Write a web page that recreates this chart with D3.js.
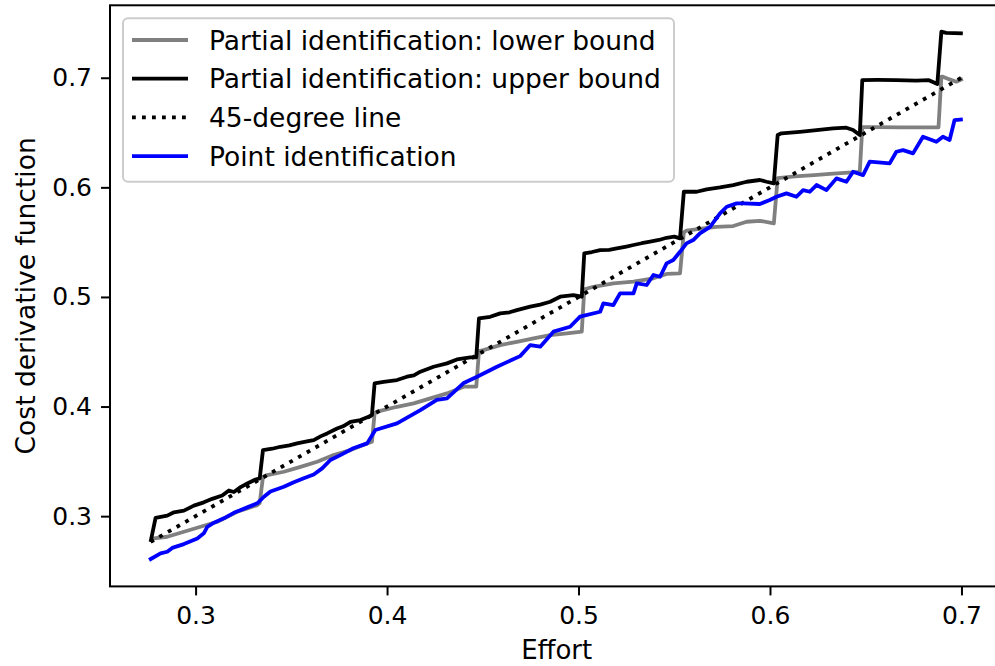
<!DOCTYPE html>
<html lang="en">
<head>
    <meta charset="UTF-8">
    <title>Cost derivative function</title>
    <style>
        body { margin: 0; background: #fff; }
        svg { display: block; font-family: "DejaVu Sans", sans-serif; }
    </style>
</head>
<body>
    <script src="https://cdn.jsdelivr.net/npm/d3@7"></script>
    <script>
        const w = 995;
        const h = 666;

        // points [effort, valeur]
        const lowerBound = [
            [0.2765,0.2766],[0.2782,0.2797],[0.2852,0.2812],[0.2939,0.2858],[0.3026,0.2903],[0.3113,0.2949],
            [0.3165,0.2994],[0.3217,0.3040],[0.3270,0.3071],[0.3322,0.3101],[0.3335,0.3120],
            [0.3352,0.3360],[0.3374,0.3375],[0.3461,0.3405],[0.3548,0.3450],[0.3635,0.3496],[0.3721,0.3557],
            [0.3809,0.3603],[0.3896,0.3664],[0.3921,0.3679],
            [0.3935,0.3938],[0.3948,0.3953],[0.4052,0.3998],[0.4139,0.4029],[0.4226,0.4075],[0.4313,0.4120],
            [0.4400,0.4181],[0.4466,0.4181],
            [0.4480,0.4505],[0.4504,0.4515],[0.4591,0.4561],[0.4678,0.4591],[0.4765,0.4622],[0.4852,0.4652],
            [0.4939,0.4668],[0.5017,0.4683],
            [0.5030,0.5070],[0.5078,0.5093],[0.5182,0.5124],[0.5287,0.5139],[0.5391,0.5170],[0.5460,0.5210],
            [0.5530,0.5215],
            [0.5550,0.5590],[0.5564,0.5605],[0.5652,0.5625],[0.5720,0.5640],[0.5808,0.5647],[0.5878,0.5686],
            [0.5947,0.5695],[0.6020,0.5671],
            [0.6040,0.6085],[0.6130,0.6100],[0.6230,0.6112],[0.6330,0.6125],[0.6430,0.6137],[0.6469,0.6140],
            [0.6482,0.6550],[0.6560,0.6550],[0.6680,0.6548],[0.6800,0.6548],[0.6880,0.6548],
            [0.6895,0.7010],[0.6903,0.7010],[0.6938,0.6985],[0.6973,0.6964],[0.7007,0.6990]
        ];

        const upperBound = [
            [0.2765,0.2766],[0.2791,0.2985],[0.2852,0.3005],[0.2887,0.3035],[0.2939,0.3050],[0.2991,0.3096],
            [0.3043,0.3126],[0.3087,0.3158],[0.3139,0.3188],[0.3174,0.3234],[0.3200,0.3220],[0.3235,0.3265],
            [0.3270,0.3298],[0.3313,0.3334],[0.3335,0.3345],
            [0.3352,0.3603],[0.3400,0.3615],[0.3443,0.3633],[0.3490,0.3645],[0.3530,0.3664],[0.3575,0.3680],
            [0.3617,0.3694],[0.3655,0.3730],[0.3687,0.3755],[0.3739,0.3800],[0.3770,0.3820],[0.3809,0.3861],
            [0.3861,0.3877],[0.3904,0.3907],[0.3921,0.3922],
            [0.3935,0.4212],[0.3982,0.4226],[0.4052,0.4242],[0.4104,0.4272],[0.4140,0.4285],[0.4174,0.4318],
            [0.4243,0.4363],[0.4313,0.4394],[0.4365,0.4430],[0.4435,0.4449],[0.4466,0.4449],
            [0.4480,0.4805],[0.4539,0.4819],[0.4591,0.4850],[0.4640,0.4860],[0.4678,0.4880],[0.4748,0.4911],
            [0.4800,0.4930],[0.4852,0.4956],[0.4904,0.5002],[0.4973,0.5017],[0.5017,0.5002],
            [0.5030,0.5398],[0.5070,0.5410],[0.5113,0.5427],[0.5160,0.5430],[0.5200,0.5443],[0.5250,0.5460],
            [0.5287,0.5474],[0.5330,0.5490],[0.5374,0.5504],[0.5420,0.5520],[0.5460,0.5540],[0.5500,0.5550],
            [0.5530,0.5535],
            [0.5550,0.5960],[0.5617,0.5960],[0.5669,0.5982],[0.5739,0.6000],[0.5808,0.6021],[0.5878,0.6051],
            [0.5947,0.6067],[0.5982,0.6051],[0.6020,0.6036],
            [0.6040,0.6477],[0.6060,0.6493],[0.6156,0.6507],[0.6243,0.6523],[0.6330,0.6538],[0.6399,0.6544],
            [0.6434,0.6523],[0.6469,0.6477],
            [0.6482,0.6979],[0.6560,0.6980],[0.6660,0.6978],[0.6764,0.6973],[0.6830,0.6978],[0.6874,0.6943],
            [0.6895,0.7420],[0.6920,0.7410],[0.7007,0.7405]
        ];

        const pointId = [
            [0.2757,0.2600],[0.2817,0.2660],[0.2852,0.2675],[0.2878,0.2710],[0.2939,0.2745],[0.3009,0.2797],
            [0.3043,0.2843],[0.3061,0.2903],[0.3096,0.2940],[0.3148,0.2980],[0.3200,0.3030],[0.3270,0.3080],
            [0.3322,0.3117],[0.3357,0.3177],[0.3391,0.3225],[0.3461,0.3268],[0.3513,0.3310],[0.3565,0.3345],
            [0.3617,0.3380],[0.3661,0.3436],[0.3704,0.3512],[0.3756,0.3557],[0.3824,0.3619],[0.3896,0.3664],
            [0.3939,0.3786],[0.4052,0.3847],[0.4174,0.3968],[0.4260,0.4060],[0.4313,0.4075],[0.4398,0.4212],
            [0.4470,0.4272],[0.4574,0.4363],[0.4695,0.4460],[0.4748,0.4561],[0.4800,0.4546],[0.4869,0.4683],
            [0.4956,0.4728],[0.5008,0.4820],[0.5113,0.4865],[0.5130,0.4942],[0.5182,0.4926],[0.5217,0.5033],
            [0.5287,0.5033],[0.5304,0.5124],[0.5356,0.5109],[0.5391,0.5200],[0.5426,0.5184],[0.5460,0.5306],
            [0.5495,0.5337],[0.5530,0.5412],[0.5564,0.5489],[0.5599,0.5519],[0.5634,0.5580],[0.5687,0.5640],
            [0.5739,0.5763],[0.5774,0.5823],[0.5826,0.5854],[0.5861,0.5854],[0.5947,0.5848],[0.5999,0.5884],
            [0.6034,0.5914],[0.6086,0.5945],[0.6138,0.5914],[0.6173,0.5975],[0.6208,0.5960],[0.6243,0.6021],
            [0.6295,0.5975],[0.6347,0.6082],[0.6399,0.6051],[0.6434,0.6142],[0.6486,0.6112],[0.6521,0.6234],
            [0.6625,0.6219],[0.6660,0.6325],[0.6695,0.6340],[0.6747,0.6310],[0.6799,0.6462],[0.6869,0.6416],
            [0.6903,0.6462],[0.6938,0.6432],[0.6964,0.6614],[0.7007,0.6620]
        ];

        // ligne à 45 degrés : y = x entre les bornes de l'effort
        const effortRange = [0.2765, 0.7007];
        const diagonal = effortRange.map(e => [e, e]);

        const xTicks = [0.3, 0.4, 0.5, 0.6, 0.7];
        const yTicks = [0.3, 0.4, 0.5, 0.6, 0.7];

        const series = [
            {label: "Partial identification: lower bound", data: lowerBound, color: "gray", dash: null},
            {label: "Partial identification: upper bound", data: upperBound, color: "black", dash: null},
            {label: "45-degree line", data: diagonal, color: "black", dash: "3.8,6.2"},
            {label: "Point identification", data: pointId, color: "blue", dash: null}
        ];

        const svg = d3.select("body")
            .append("svg")
            .attr("width", w)
            .attr("height", h)

        // échelles (le cadre déborde à droite comme sur l'original)
        const x = d3.scaleLinear()
            .domain([0.2553, 0.7219])
            .range([110, 1003.4]);

        const y = d3.scaleLinear()
            .domain([0.2359, 0.7661])
            .range([586.4, 5.3]);

        const line = d3.line()
            .x(d => x(d[0]))
            .y(d => y(d[1]));

        // courbes
        svg.append("g")
            .selectAll("path")
            .data(series)
            .join("path")
                .attr("d", s => line(s.data))
                .attr("fill", "none")
                .attr("stroke", s => s.color)
                .attr("stroke-width", 3.8)
                .attr("stroke-dasharray", s => s.dash)
                .attr("stroke-linejoin", "round")

        // axes
        const gx = svg.append("g")
            .attr("transform", `translate(0, ${y.range()[0]})`)
            .call(d3.axisBottom(x).tickValues(xTicks).tickFormat(d3.format(".1f")).tickSize(9).tickPadding(11))
        const gy = svg.append("g")
            .attr("transform", `translate(${x.range()[0]}, 0)`)
            .call(d3.axisLeft(y).tickValues(yTicks).tickFormat(d3.format(".1f")).tickSize(9).tickPadding(9))

        for (const g of [gx, gy]) {
            g.select(".domain").remove();
            g.selectAll("line").attr("stroke", "#000").attr("stroke-width", 2);
            g.selectAll("text").attr("fill", "#000").attr("font-size", 25).attr("font-family", "DejaVu Sans");
        }

        // cadre
        svg.append("rect")
            .attr("x", x.range()[0])
            .attr("y", y.range()[1])
            .attr("width", x.range()[1] - x.range()[0])
            .attr("height", y.range()[0] - y.range()[1])
            .attr("fill", "none")
            .attr("stroke", "#000")
            .attr("stroke-width", 2)

        // titres des axes
        svg.append("text")
            .attr("x", (x.range()[0] + x.range()[1]) / 2)
            .attr("y", 659)
            .attr("text-anchor", "middle")
            .attr("font-size", 26)
            .text("Effort")

        svg.append("text")
            .attr("transform", `translate(35, ${(y.range()[0] + y.range()[1]) / 2}) rotate(-90)`)
            .attr("text-anchor", "middle")
            .attr("font-size", 26.5)
            .text("Cost derivative function")

        // légende
        const legend = svg.append("g");
        legend.append("rect")
            .attr("x", 123)
            .attr("y", 18.3)
            .attr("width", 551)
            .attr("height", 163.4)
            .attr("rx", 5)
            .attr("fill", "#fff")
            .attr("fill-opacity", 0.8)
            .attr("stroke", "#cccccc")
            .attr("stroke-width", 2)

        const rows = legend.selectAll("g.row")
            .data(series)
            .join("g")
                .attr("class", "row")
                .attr("transform", (s, i) => `translate(0, ${40 + i * 38.7})`)

        rows.append("line")
            .attr("x1", 132)
            .attr("x2", 188)
            .attr("stroke", s => s.color)
            .attr("stroke-width", 3.8)
            .attr("stroke-dasharray", s => s.dash)

        rows.append("text")
            .attr("x", 209)
            .attr("dy", "0.36em")
            .attr("font-size", 26.5)
            .text(s => s.label)
    </script>
</body>
</html>
